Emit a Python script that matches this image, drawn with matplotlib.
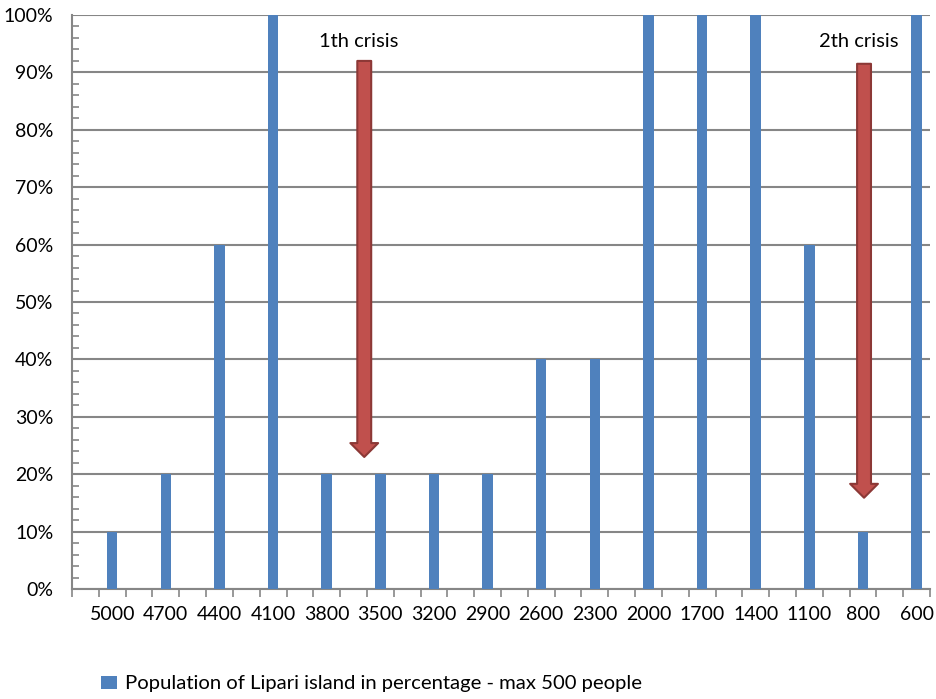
import matplotlib
matplotlib.use("Agg")
import matplotlib.pyplot as plt
from matplotlib.ticker import MultipleLocator, FixedLocator, PercentFormatter, NullFormatter
import numpy as np

# years BP shown under every other slot of the category axis
years = ['5000', '4700', '4400', '4100', '3800', '3500', '3200', '2900',
         '2600', '2300', '2000', '1700', '1400', '1100', '800', '600']
# population share (of max 500 people)
population = [0.10, 0.20, 0.60, 1.00, 0.20, 0.20, 0.20, 0.20,
              0.40, 0.40, 1.00, 1.00, 1.00, 0.60, 0.10, 1.00]
series_name = 'Population of Lipari island in percentage - max 500 people'

# crisis arrows: (label, x in slot units, start, end)
crises = [('1th crisis', 10.9, 0.92, 0.23),
          ('2th crisis', 29.54, 0.915, 0.159)]

BLUE = '#4F81BD'
GRID = '#868686'
RED = '#C0504D'
DARKRED = '#8C3836'

plt.rcParams['font.family'] = ['Lato', 'DejaVu Sans']

fig = plt.figure(figsize=(9.36, 6.99), dpi=100)
ax = fig.add_axes([72 / 936, 1 - 589 / 699, 858 / 936, 574 / 699])

nslots = 2 * len(years)
xpos = np.arange(len(years)) * 2 + 1.5
bars = ax.bar(xpos, population, width=0.39, color=BLUE, label=series_name,
              zorder=3)

ax.set_xlim(0, nslots)
ax.set_ylim(0, 1)

# y axis: gridlines every 10 %, small inward ticks every 2 %
ax.yaxis.set_major_locator(MultipleLocator(0.1))
ax.yaxis.set_minor_locator(MultipleLocator(0.02))
ax.yaxis.set_major_formatter(PercentFormatter(1.0, decimals=0))
ax.yaxis.grid(True, color=GRID, lw=1.5, zorder=1)
ax.tick_params(axis='y', which='major', length=0, pad=13.5, labelsize=14)
ax.tick_params(axis='y', which='minor', direction='in', length=5,
               width=1.2, color=GRID)

# x axis: ticks at slot boundaries, labels under the bars
ax.xaxis.set_major_locator(FixedLocator(np.arange(nslots + 1)))
ax.xaxis.set_major_formatter(NullFormatter())
ax.xaxis.set_minor_locator(FixedLocator(xpos))
ax.set_xticklabels(years, minor=True)
ax.tick_params(axis='x', which='major', direction='out', length=6,
               width=1.2, color=GRID)
ax.tick_params(axis='x', which='minor', length=0, pad=12.5, labelsize=14)

for side in ('top', 'right'):
    ax.spines[side].set_visible(False)
for side in ('left', 'bottom'):
    ax.spines[side].set_color(GRID)
    ax.spines[side].set_linewidth(1.5)

for label, x, y0, y1 in crises:
    ax.annotate('', xy=(x, y1), xytext=(x, y0),
                arrowprops=dict(arrowstyle='simple,head_length=10,head_width=20,tail_width=10',
                                mutation_scale=1, fc=RED, ec=DARKRED, lw=1.5,
                                shrinkA=0, shrinkB=0), zorder=5)
    ax.text(x - 0.2, 1 - 0.047, label, ha='center', va='center', fontsize=14.5,
            zorder=6)

fig.legend(handles=[bars], labels=[series_name], loc='center left',
           bbox_to_anchor=(101 / 936, 1 - 684 / 699), frameon=False,
           fontsize=14.6, handlelength=0.79, handleheight=0.64,
           handletextpad=0.4, borderaxespad=0, borderpad=0)

fig.savefig('out.png', dpi=100)
